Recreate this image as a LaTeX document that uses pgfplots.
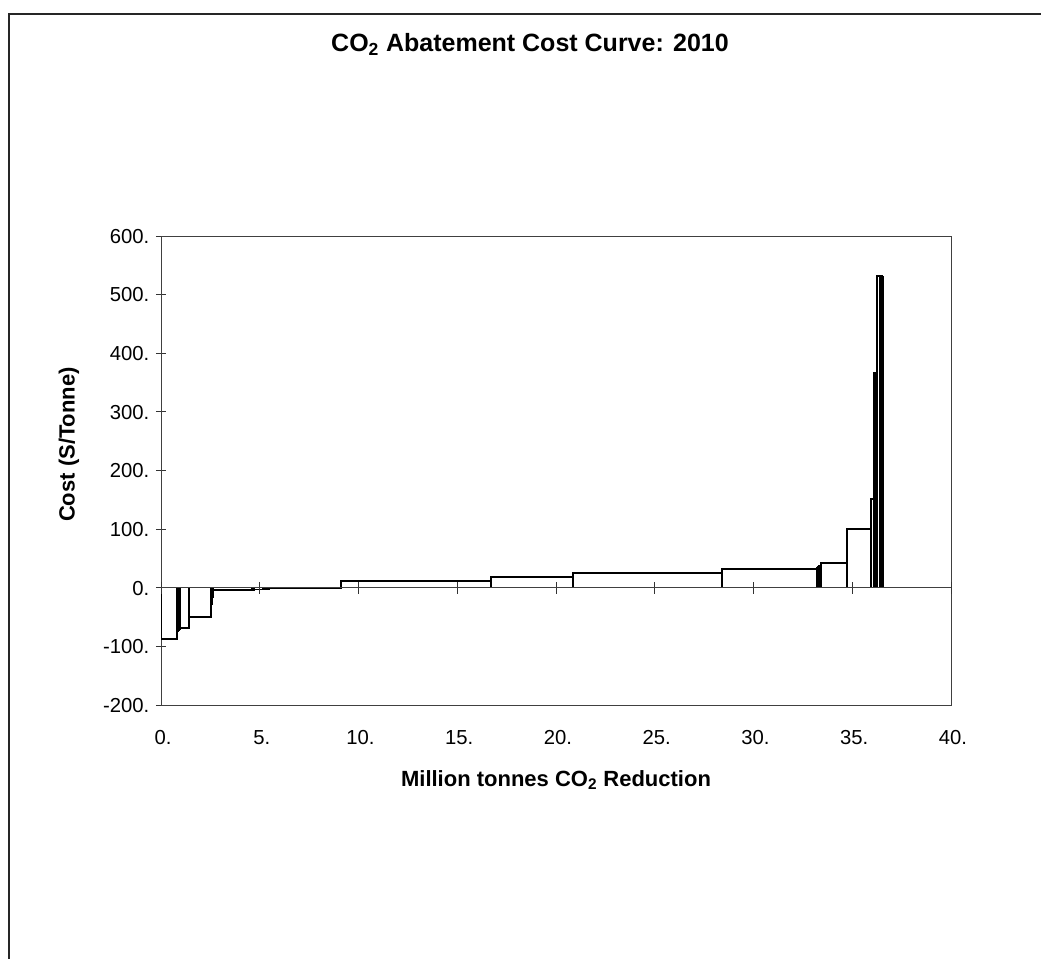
\documentclass[border=0pt]{standalone}
\usepackage{fontspec}
\setmainfont{Liberation Sans}
\usepackage{pgfplots}
\pgfplotsset{compat=1.18}
\usepackage{pgfplotstable}

\pgfplotstableread{
x y
0 -88
0.795 -75
0.83 -74
0.87 -72
0.91 -70
0.96 -68
1.43 -50
2.52 -27
2.56 -25
2.60 -15
2.65 -4
4.59 -4.5
4.64 -4
4.71 -3
5.18 -2.5
5.47 -1
9.10 11.5
16.69 18.5
20.85 24.5
28.42 32
33.23 33
33.27 35
33.31 37
33.40 42.5
34.72 100
35.93 152
36.09 367
36.14 367
36.19 367
36.24 532
36.41 532
36.46 532
36.54 532
}\costdata

\begin{document}
\begin{tikzpicture}
\useasboundingbox (0pt,-719.25pt) rectangle (780.75pt,0pt);
\draw[line width=1.5pt, black!85] (6.75pt,-730pt) -- (6.75pt,-10.5pt) -- (790pt,-10.5pt);
\begin{axis}[
  at={(120.75pt,-528.75pt)}, anchor=south west, scale only axis,
  width=592.5pt, height=351.75pt,
  xmin=0, xmax=40, ymin=-200, ymax=600,
  xtick={0,5,10,15,20,25,30,35,40},
  xticklabels={0.,5.,10.,15.,20.,25.,30.,35.,40.},
  ytick={-200,-100,0,100,200,300,400,500,600},
  yticklabels={-200.,-100.,0.,100.,200.,300.,400.,500.,600.},
  ytick pos=left,
  xtick style={draw=none},
  ytick style={black!80, line width=0.7pt},
  tick align=center, major tick length=7.5pt,
  axis line style={black!75, line width=0.7pt},
  ticklabel style={font=\fontsize{15.2}{18}\selectfont, text height=11pt, text depth=0pt},
  xticklabel style={anchor=north, yshift=-11.5pt, xshift=1.5pt},
  yticklabel style={xshift=-1.5pt},
  /pgf/number format/assume math mode=true,
]
\addplot[const plot mark left, black, line width=1.45pt, mark=none] table[x=x,y=y]{\costdata};
\addplot[ycomb, black, line width=1.45pt, mark=none] table[x=x,y=y]{\costdata};
\end{axis}
\begin{axis}[
  at={(120.75pt,-528.75pt)}, anchor=south west, scale only axis,
  width=592.5pt, height=351.75pt,
  xmin=0, xmax=40, ymin=-200, ymax=600,
  axis x line=middle, axis y line=none,
  xtick={0,5,10,15,20,25,30,35,40}, xticklabels={},
  ytick=\empty,
  tick align=center, major tick length=9pt,
  xtick style={black!80, line width=0.7pt},
  axis line style={-, black!75, line width=0.7pt},
]
\end{axis}
\node[anchor=base, font=\fontsize{18.75}{22}\selectfont\bfseries] at (397.5pt,-38.3pt) {CO\textsubscript{2} Abatement Cost Curve: 2010};
\node[anchor=base, font=\fontsize{16.5}{20}\selectfont\bfseries] at (417pt,-589.5pt) {Million tonnes CO\textsubscript{2} Reduction};
\node[anchor=base west, rotate=90, font=\fontsize{16.5}{20}\selectfont\bfseries] at (56pt,-395pt) {Cost (S/Tonne)};
\end{tikzpicture}
\end{document}
